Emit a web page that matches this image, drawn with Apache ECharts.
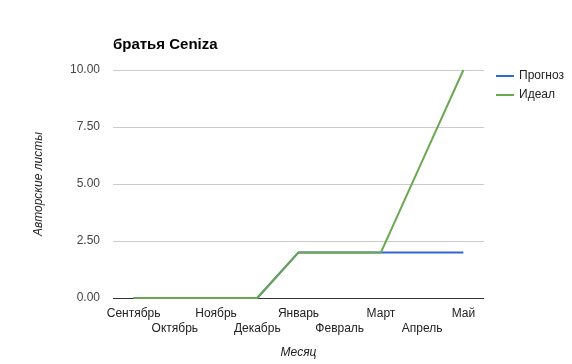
<!DOCTYPE html>
<html><head><meta charset="utf-8">
<script src="https://cdn.jsdelivr.net/npm/echarts@6/dist/echarts.min.js"></script>
<style>html,body{margin:0;padding:0;background:#fff}#c{width:572px;height:364px}</style>
</head><body><div id="c"></div>
<script>
const categories = ['Сентябрь','Октябрь','Ноябрь','Декабрь','Январь','Февраль','Март','Апрель','Май'];
const forecast = [0,0,0,0,2,2,2,2,2];
const ideal = [0,0,0,0,2,2,2,6,10];
const yTicks = [0,2.5,5,7.5,10];
const font = 'Arial, "Liberation Sans", sans-serif';
const chart = echarts.init(document.getElementById('c'));
chart.setOption({
  animation:false,
  backgroundColor:'#fff',
  title:{text:'братья Ceniza',left:108,top:32,textStyle:{fontFamily:font,fontSize:15,fontWeight:'bold',color:'#000'}},
  legend:{orient:'vertical',left:491,top:64,itemWidth:18,itemHeight:2,itemGap:5,icon:'rect',
    textStyle:{fontFamily:font,fontSize:12,color:'#222',lineHeight:14},
    data:['Прогноз','Идеал']},
  grid:{left:113,right:88,top:70,bottom:65,containLabel:false},
  xAxis:{type:'category',data:categories,boundaryGap:true,
    name:'Месяц',nameLocation:'middle',nameGap:49,
    nameTextStyle:{fontFamily:font,fontSize:12,fontStyle:'italic',color:'#222'},
    axisLine:{show:false},axisTick:{show:false},
    axisLabel:{interval:0,margin:8,fontFamily:font,fontSize:12,color:'#222',lineHeight:15,
      formatter:(v,i)=> i%2 ? '\n'+v : v}},
  yAxis:{type:'value',min:yTicks[0],max:yTicks[yTicks.length-1],interval:2.5,
    name:'Авторские листы',nameLocation:'middle',nameGap:68,
    nameTextStyle:{fontFamily:font,fontSize:12,fontStyle:'italic',color:'#222'},
    axisLine:{show:false},axisTick:{show:false},
    splitLine:{lineStyle:{color:'#cccccc',width:1}},
    axisLabel:{margin:13,fontFamily:font,fontSize:12,color:'#444',formatter:v=>v.toFixed(2)}},
  series:[
    {name:'Прогноз',type:'line',data:forecast,symbol:'none',color:'#3366cc',lineStyle:{width:2,color:'#3366cc'},z:2},
    {name:'Идеал',type:'line',data:ideal,symbol:'none',color:'#6aa84f',lineStyle:{width:2,color:'#6aa84f'},z:3,
     markLine:{silent:true,symbol:'none',label:{show:false},lineStyle:{color:'#333',width:1,type:'solid'},data:[{yAxis:0}],z:1}}
  ]
});
</script></body></html>
